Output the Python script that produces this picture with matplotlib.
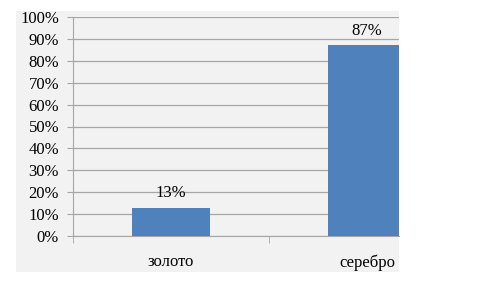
import matplotlib
matplotlib.use("Agg")
import matplotlib.pyplot as plt
from matplotlib.ticker import FixedLocator, PercentFormatter

categories = ["золото", "серебро"]
shares = [0.13, 0.87]
bar_labels = ["13%", "87%"]

plt.rcParams["font.family"] = ["Liberation Serif", "DejaVu Serif"]
plt.rcParams["font.size"] = 12

fig = plt.figure(figsize=(4.8, 2.88), dpi=100, facecolor="white")

# grey chart area behind everything
bg = fig.add_axes([16 / 480, 16 / 288, 383 / 480, 261 / 288], zorder=0)
bg.set_facecolor("#F2F2F2")
bg.set_xticks([])
bg.set_yticks([])
for s in bg.spines.values():
    s.set_visible(False)

ax = fig.add_axes([73 / 480, 52 / 288, 326 / 480, 219 / 288], zorder=1)
ax.set_facecolor("none")

x = range(len(categories))
bars = ax.bar(x, shares, width=0.4, color="#4F81BD", zorder=3)
ax.bar_label(bars, labels=bar_labels, padding=4.5)

ax.set_ylim(0, 1)
ax.set_xlim(-0.5, (399 - 73) / 196 - 0.5)
ax.set_yticks([i / 10 for i in range(11)])
ax.yaxis.set_major_formatter(PercentFormatter(1.0, decimals=0))
ax.grid(axis="y", color="#A6A6A6", linewidth=0.9, zorder=1)

ax.set_xticks(list(x))
ax.set_xticklabels(categories)
ax.xaxis.set_minor_locator(FixedLocator([-0.5, 0.5]))
ax.tick_params(axis="x", which="major", length=0, pad=13)
ax.tick_params(axis="x", which="minor", length=5, color="#A6A6A6")
ax.tick_params(axis="y", length=4, color="#A6A6A6", pad=6)

for side in ("top", "right"):
    ax.spines[side].set_visible(False)
for side in ("left", "bottom"):
    ax.spines[side].set_color("#A6A6A6")

fig.savefig("out.png", dpi=100, facecolor="white")
